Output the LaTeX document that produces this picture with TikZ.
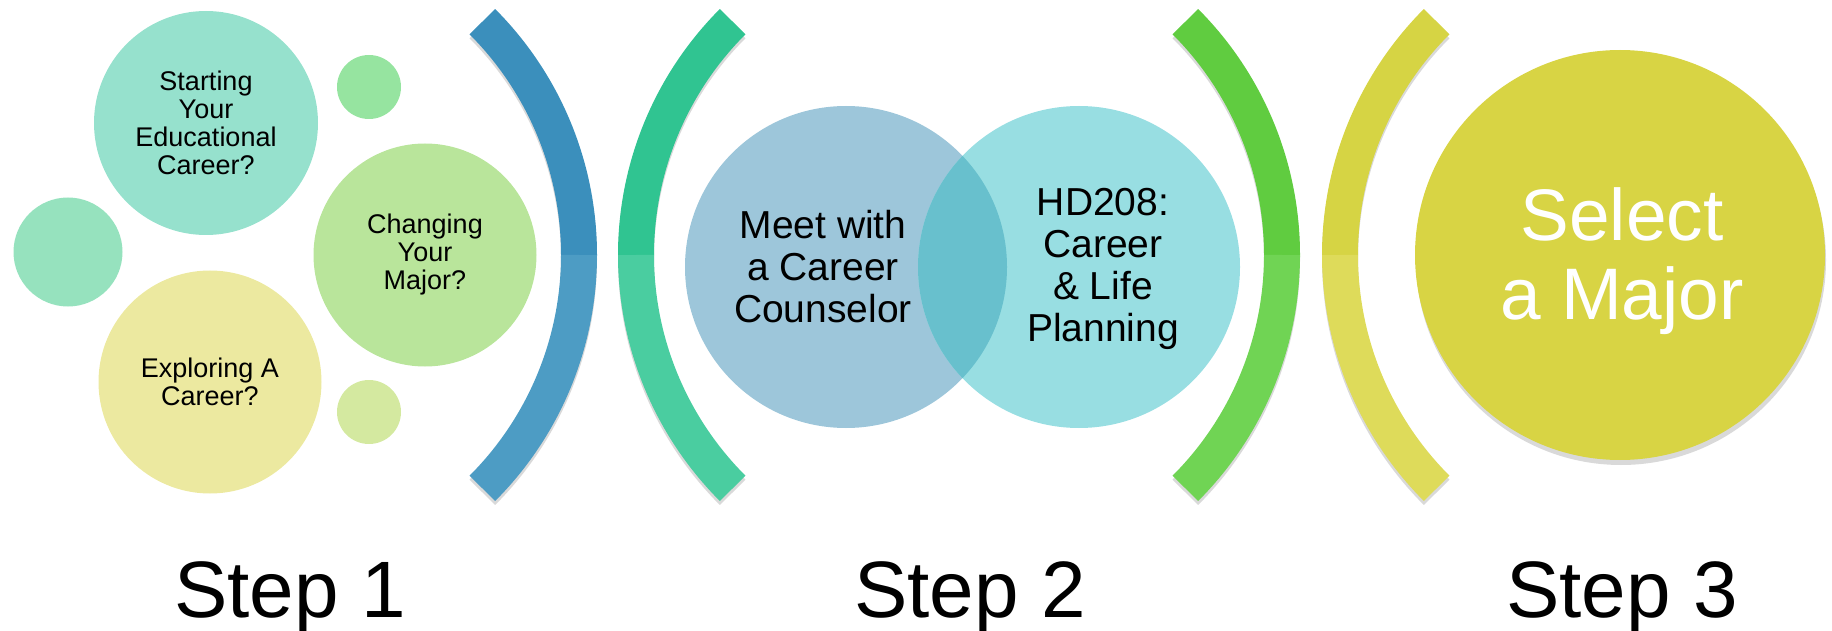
\documentclass[tikz,border=0pt]{standalone}
\usepackage{fontspec}
\setmainfont{Liberation Sans}
\definecolor{startfill}{RGB}{150,225,205}
\definecolor{leftfill}{RGB}{150,226,190}
\definecolor{topfill}{RGB}{150,228,160}
\definecolor{changefill}{RGB}{185,229,155}
\definecolor{explorefill}{RGB}{236,233,160}
\definecolor{botfill}{RGB}{212,233,160}
\definecolor{meetfill}{RGB}{157,198,218}
\definecolor{hdfill}{RGB}{152,222,226}
\definecolor{overlapfill}{RGB}{104,192,205}
\definecolor{selectfill}{RGB}{216,212,68}
\definecolor{blueA}{RGB}{59,143,188}
\definecolor{blueB}{RGB}{77,156,196}
\definecolor{tealA}{RGB}{48,196,145}
\definecolor{tealB}{RGB}{74,205,160}
\definecolor{greenA}{RGB}{96,204,64}
\definecolor{greenB}{RGB}{112,212,84}
\definecolor{yellowA}{RGB}{214,212,68}
\definecolor{yellowB}{RGB}{222,219,90}

\begin{document}
\begin{tikzpicture}[x=1pt,y=1pt,
  bubble/.style={circle, inner sep=0pt, align=center, text=black},
  small/.style={font=\fontsize{27}{28}\selectfont},
  mid/.style={align=center, font=\fontsize{39}{42}\selectfont},
  band/.style={line width=36pt},
  steplabel/.style={anchor=base, font=\fontsize{80}{96}\selectfont}]
\useasboundingbox (0,0) rectangle (1832,-631);
% brackets
\foreach \cx/\m/\d/\colA/\colB in {249/0/1/blueA/blueB, 966/180/-1/tealA/tealB, 952/0/1/greenA/greenB, 1670/180/-1/yellowA/yellowB}
{
	\draw[band, black, opacity=.15] (\cx,-259) ++(\m-45:330pt) arc[start angle=\m-45, end angle=\m+45, radius=330pt];
	\draw[band, \colA] (\cx,-255) ++(\m:330pt) arc[start angle=\m, end angle=\m+45*\d, radius=330pt];
	\draw[band, \colB] (\cx,-255) ++(\m:330pt) arc[start angle=\m, end angle=\m-45*\d, radius=330pt];
}
% step 1
\node[bubble, small, fill=startfill, minimum size=224pt] (start) at (206,-123) {Starting\\Your\\Educational\\Career?};
\node[bubble, fill=leftfill, minimum size=109pt] (dotl) at (68,-252) {};
\node[bubble, fill=topfill, minimum size=64pt] (dott) at (369,-87) {};
\node[bubble, small, fill=changefill, minimum size=223pt] (change) at (425,-255) {Changing\\Your\\Major?};
\node[bubble, small, fill=explorefill, minimum size=223pt] (explore) at (210,-382) {Exploring A\\Career?};
\node[bubble, fill=botfill, minimum size=64pt] (dotb) at (369,-412) {};
% step 2
\node[bubble, fill=meetfill, minimum size=322pt] (meet) at (846,-267) {};
\node[bubble, fill=hdfill, minimum size=322pt] (hd) at (1079,-267) {};
\begin{scope}
\clip (846,-267) circle[radius=161pt];
\fill[overlapfill] (1079,-267) circle[radius=161pt];
\end{scope}
\node[mid] (meettext) at (823,-267) {Meet with\\a Career\\Counselor};
\node[mid] (hdtext) at (1103,-269) {HD208:\\Career\\\& Life\\Planning};
% step 3
\fill[black, opacity=.15] (1621,-260) circle[radius=205pt];
\node[bubble, fill=selectfill, minimum size=410pt] (select) at (1620,-255) {};
\node[align=center, text=white, font=\fontsize{73}{78.5}\selectfont] (selecttext) at (1622,-261) {Select\\a Major};
\foreach \x/\n in {290/1, 970/2, 1622/3}
{
	\node[steplabel] (step\n) at (\x,-617) {Step \n};
}
\end{tikzpicture}
\end{document}
